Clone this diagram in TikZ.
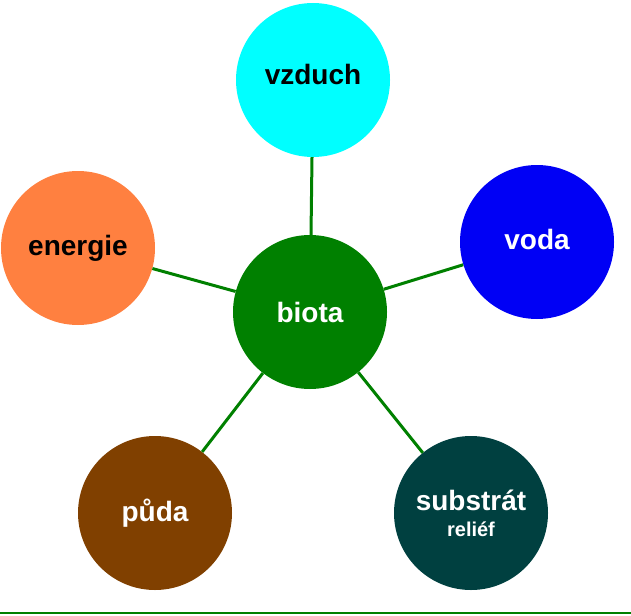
\documentclass[tikz,border=0pt]{standalone}
\usepackage{fontspec}
\setmainfont{Liberation Sans}
\usetikzlibrary{positioning}
\definecolor{airc}{RGB}{0,255,255}
\definecolor{energyc}{RGB}{255,128,64}
\definecolor{waterc}{RGB}{0,0,245}
\definecolor{biotac}{RGB}{0,128,0}
\definecolor{soilc}{RGB}{128,64,0}
\definecolor{rockc}{RGB}{0,64,64}
\tikzstyle{bubble} = [circle,inner sep=0,minimum size=154pt,font=\fontsize{28}{30}\selectfont\bfseries]
\tikzstyle{link} = [-,line width=3pt,draw=biotac]

\begin{document}
\begin{tikzpicture}[x=1pt,y=-1pt]
      \useasboundingbox (0,0) rectangle (631,615);
      \node[bubble,fill=biotac,text=white] (biota) at (310,312) {biota};
      \node[bubble,fill=airc,text depth=12pt] (vzduch) at (313,80) {vzduch};
      \node[bubble,fill=energyc,text depth=6pt] (energie) at (78,248) {energie};
      \node[bubble,fill=waterc,text=white,text depth=6pt] (voda) at (537,242) {voda};
      \node[bubble,fill=soilc,text=white] (puda) at (155,513) {půda};
      \node[bubble,fill=rockc,text=white,align=center] (substrat) at (471,513)
            {substrát\\[-4pt]{\fontsize{20}{22}\selectfont reliéf}};
      \draw[link] (biota) -- (vzduch);
      \draw[link] (biota) -- (energie);
      \draw[link] (biota) -- (voda);
      \draw[link] (biota) -- (puda);
      \draw[link] (biota) -- (substrat);
      % base rule
      \coordinate (rulel) at (0,613);
      \coordinate (ruler) at (631,613);
      \draw[line width=2pt,draw=biotac] (rulel) -- (ruler);
\end{tikzpicture}
\end{document}
